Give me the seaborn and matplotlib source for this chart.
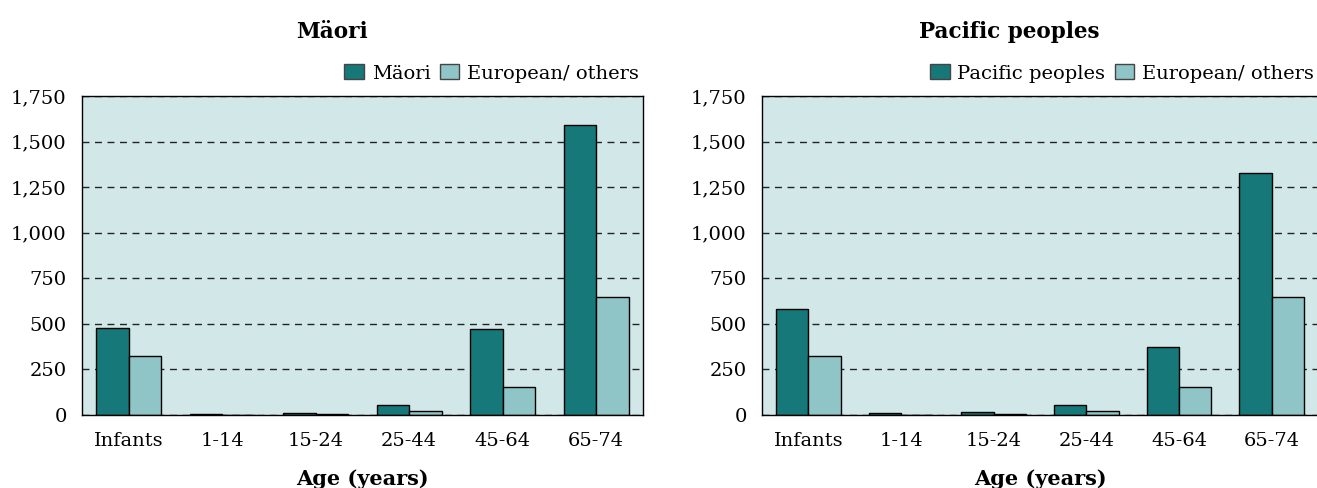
import matplotlib
matplotlib.use('Agg')
from matplotlib import pyplot as plt
import pandas as pd
import seaborn as sns

age_groups = ['Infants', '1-14', '15-24', '25-44', '45-64', '65-74']
maori = [478, 5, 11, 57, 473, 1590]
maori_european = [323, 2, 5, 20, 153, 648]
pacific = [580, 9, 16, 57, 372, 1330]
pacific_european = [323, 2, 5, 20, 153, 646]
yticks = [0, 250, 500, 750, 1000, 1250, 1500, 1750]

DARK = '#167878'
LIGHT = '#8fc5c6'
BG = '#d2e8e8'

sns.set_style('white')
plt.rcParams['font.family'] = ['DejaVu Serif']
plt.rcParams['font.size'] = 14
plt.rcParams['text.color'] = 'black'
plt.rcParams['xtick.color'] = 'black'
plt.rcParams['ytick.color'] = 'black'
plt.rcParams['axes.labelcolor'] = 'black'


def tidy(group_name, group, european):
    return pd.DataFrame({
        'age': age_groups * 2,
        'rate': group + european,
        'ethnicity': [group_name] * len(age_groups) +
                     ['European/ others'] * len(age_groups),
    })


def draw_panel(ax, df, group_name, title):
    sns.barplot(df, x='age', y='rate', hue='ethnicity',
                hue_order=[group_name, 'European/ others'],
                palette=[DARK, LIGHT], width=0.7, saturation=1,
                edgecolor='black', linewidth=1, ax=ax)
    ax.set_facecolor(BG)
    ax.set_xlim(-0.5, 5.5)
    ax.set_ylim(0, 1750)
    ax.set_yticks(yticks)
    ax.set_yticklabels([f'{v:,}' for v in yticks])
    ax.yaxis.grid(True, linestyle=(0, (5, 4)), color='#222222', linewidth=1)
    ax.set_axisbelow(True)
    for s in ax.spines.values():
        s.set_color('black')
        s.set_linewidth(1)
    ax.tick_params(axis='y', length=0, pad=11)
    ax.tick_params(axis='x', length=0, pad=12)
    ax.set_ylabel('')
    ax.set_xlabel('Age (years)', fontweight='bold', fontsize=15)
    ax.xaxis.set_label_coords(0.5, -0.17)
    ax.set_title(title, fontweight='bold', fontsize=15.5, x=0.445, y=1.155)
    handles, labels = ax.get_legend_handles_labels()
    leg = ax.legend(handles, labels, loc='lower right',
                    bbox_to_anchor=(1.0, 1.03), ncol=2, frameon=False,
                    handlelength=1.0, handleheight=0.8, handletextpad=0.4,
                    columnspacing=0.5, borderaxespad=0.1, borderpad=0.1)
    for patch in leg.get_patches():
        patch.set_edgecolor('#444444')


fig = plt.figure(figsize=(13.17, 4.88), dpi=100)
ax1 = fig.add_axes([82 / 1317, 73 / 488, 561 / 1317, 319 / 488])
ax2 = fig.add_axes([762 / 1317, 73 / 488, 556 / 1317, 319 / 488])

draw_panel(ax1, tidy('Mäori', maori, maori_european), 'Mäori', 'Mäori')
draw_panel(ax2, tidy('Pacific peoples', pacific, pacific_european),
           'Pacific peoples', 'Pacific peoples')

fig.savefig('out.png', dpi=100)
